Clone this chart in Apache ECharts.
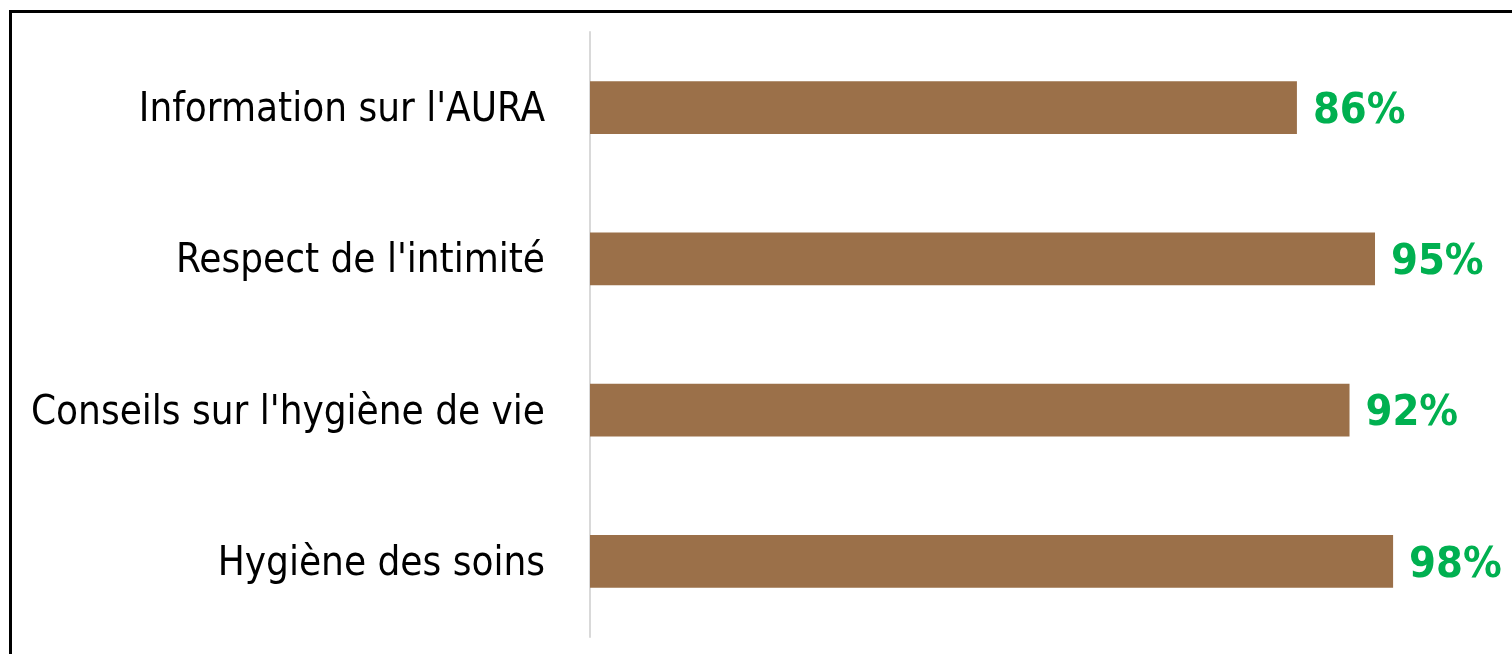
<!DOCTYPE html>
<html>
<head>
<meta charset="utf-8">
<script src="https://cdn.jsdelivr.net/npm/echarts@6/dist/echarts.min.js"></script>
<style>
html,body{margin:0;padding:0;background:#fff;overflow:hidden;}
#frame{position:absolute;left:9px;top:10px;width:1560px;height:700px;border:3px solid #000;box-sizing:border-box;}
#chart{position:absolute;left:0;top:0;width:1512px;height:654px;}
</style>
</head>
<body>
<div id="frame"></div>
<div id="chart"></div>
<script>
const categories = ["Information sur l'AURA", "Respect de l'intimité", "Conseils sur l'hygiène de vie", "Hygiène des soins"];
const values = [0.86, 0.955, 0.924, 0.977];
const valueLabels = ["86%", "95%", "92%", "98%"];

const FONT = '"Liberation Sans Narrow", "DejaVu Sans Condensed", sans-serif';
const chart = echarts.init(document.getElementById('chart'), null, {renderer: 'canvas'});
chart.setOption({
  animation: false,
  grid: {left: 590, top: 32, width: 822, height: 605, containLabel: false, outerBoundsMode: 'none'},
  xAxis: {type: 'value', min: 0, max: 1, show: false},
  yAxis: {
    type: 'category', data: categories, inverse: true,
    axisLine: {show: true, lineStyle: {color: '#d9d9d9', width: 2}},
    axisTick: {show: false},
    axisLabel: {
      margin: 45, color: '#000',
      formatter: v => '{a|' + v + '}',
      rich: {a: {fontSize: 40, color: '#000', fontFamily: FONT, padding: [6, 0, 0, 0]}}
    },
    splitLine: {show: false}
  },
  series: [{
    type: 'bar', data: values, barWidth: '35%',
    itemStyle: {color: '#9B7049'},
    label: {
      show: true, position: 'right', distance: 16, offset: [0, 4],
      formatter: p => valueLabels[p.dataIndex],
      color: '#00B050', fontSize: 43, fontWeight: 'bold',
      fontFamily: FONT
    }
  }]
});
</script>
</body>
</html>
